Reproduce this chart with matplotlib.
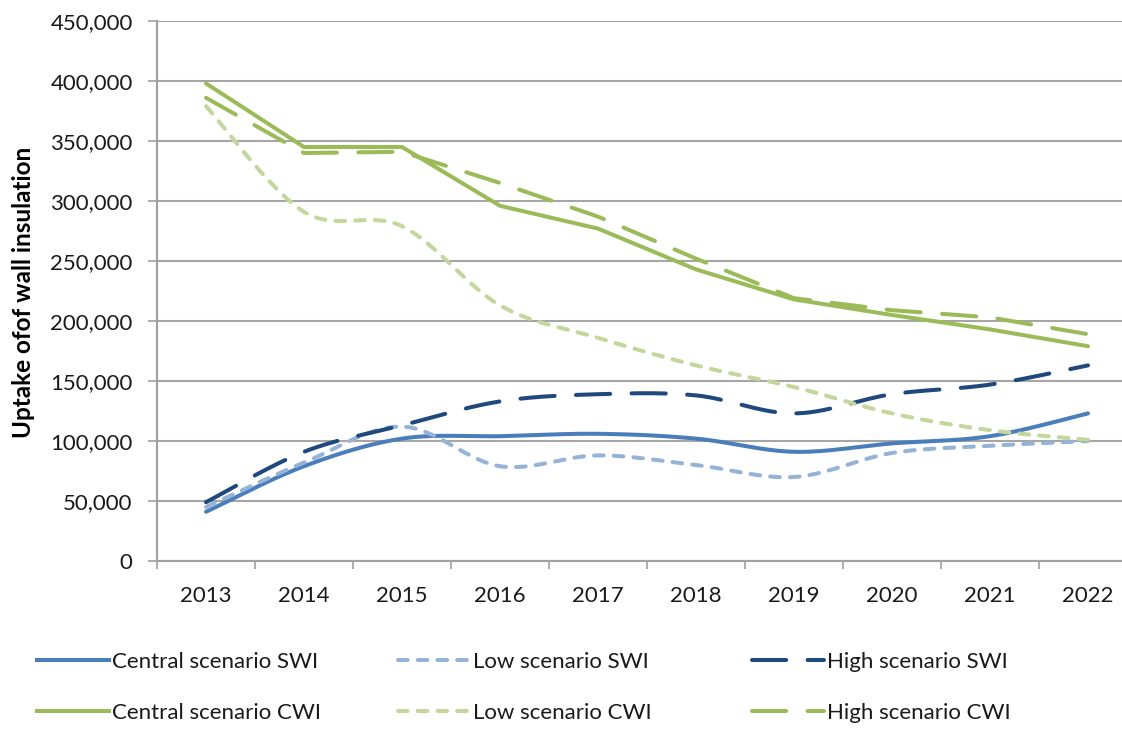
import numpy as np
import matplotlib
matplotlib.use("Agg")
import matplotlib.pyplot as plt
from matplotlib.lines import Line2D
from matplotlib.ticker import FuncFormatter, FixedLocator

plt.rcParams['font.family'] = ['Lato', 'DejaVu Sans']

years = ["2013", "2014", "2015", "2016", "2017", "2018", "2019", "2020", "2021", "2022"]
central_swi = [41000, 79000, 102000, 104000, 106000, 102000, 91000, 98000, 104000, 123000]
low_swi = [45000, 82000, 112000, 79000, 88000, 80000, 70000, 90000, 96000, 100000]
high_swi = [49000, 91000, 113000, 133000, 139000, 138000, 123000, 139000, 147000, 163000]
central_cwi = [398000, 345000, 345000, 296000, 277000, 243000, 218000, 205000, 193000, 179000]
low_cwi = [379000, 291000, 279000, 213000, 186000, 163000, 145000, 123000, 109000, 101000]
high_cwi = [386000, 340000, 341000, 315000, 287000, 252000, 219000, 209000, 203000, 189000]

labels = ["Central scenario SWI", "Low scenario SWI", "High scenario SWI",
          "Central scenario CWI", "Low scenario CWI", "High scenario CWI"]

C_MID = "#4A7EBB"
C_LIGHT = "#95B3D7"
C_DARK = "#1F497D"
G_MID = "#9BBB59"
G_LIGHT = "#C3D69B"


def smooth(y, n=30):
    y = np.asarray(y, dtype=float)
    x = np.arange(len(y), dtype=float)
    xs, ys = [], []
    for i in range(len(y) - 1):
        p0 = y[i - 1] if i > 0 else y[i]
        p1, p2 = y[i], y[i + 1]
        p3 = y[i + 2] if i + 2 < len(y) else y[i + 1]
        x0 = x[i - 1] if i > 0 else x[i]
        x3 = x[i + 2] if i + 2 < len(y) else x[i + 1]
        c1y = p1 + (p2 - p0) / 6.0
        c2y = p2 - (p3 - p1) / 6.0
        c1x = x[i] + (x[i + 1] - x0) / 6.0
        c2x = x[i + 1] - (x3 - x[i]) / 6.0
        t = np.linspace(0, 1, n, endpoint=(i == len(y) - 2))
        b0 = (1 - t) ** 3
        b1 = 3 * (1 - t) ** 2 * t
        b2 = 3 * (1 - t) * t ** 2
        b3 = t ** 3
        xs.append(b0 * x[i] + b1 * c1x + b2 * c2x + b3 * x[i + 1])
        ys.append(b0 * p1 + b1 * c1y + b2 * c2y + b3 * p2)
    return np.concatenate(xs), np.concatenate(ys)


W, H = 1122, 731
fig = plt.figure(figsize=(W / 100, H / 100), dpi=100)
ax = fig.add_axes([157 / W, 1 - 561 / H, (1137 - 157) / W, (561 - 21) / H])

lw = 2.9
long_dash = (0, (8.5, 5.3))
short_dash = (0, (2.4, 2.5))

styles = [
    (central_swi, C_MID, '-', True),
    (low_swi, C_LIGHT, short_dash, True),
    (high_swi, C_DARK, long_dash, True),
    (central_cwi, G_MID, '-', False),
    (low_cwi, G_LIGHT, short_dash, True),
    (high_cwi, G_MID, long_dash, False),
]

handles = []
for (vals, col, ls, sm), lab in zip(styles, labels):
    if sm:
        xs, ys = smooth(vals)
    else:
        xs, ys = np.arange(len(vals)), np.asarray(vals)
    ax.plot(xs, ys, color=col, linestyle=ls, linewidth=lw,
            dash_capstyle='round', solid_capstyle='round',
            solid_joinstyle='round', label=lab)
    handles.append(Line2D([], [], color=col, linestyle=ls, linewidth=lw,
                          dash_capstyle='round'))

ax.set_xlim(-0.5, len(years) - 0.5)
ax.set_ylim(0, 450000)
ax.set_yticks(np.arange(0, 450001, 50000))
ax.yaxis.set_major_formatter(FuncFormatter(lambda v, p: f"{int(v):,}"))
ax.set_xticks(np.arange(len(years)))
ax.set_xticklabels(years)
ax.xaxis.set_minor_locator(FixedLocator(np.arange(-0.5, len(years), 1.0)))
ax.tick_params(axis='x', which='major', length=0, labelsize=16, pad=18, colors='#1a1a1a')
ax.tick_params(axis='x', which='minor', length=6, width=1.2, color='#A0A0A0')
ax.tick_params(axis='y', which='major', length=6.5, width=1.2, color='#A0A0A0',
               labelsize=16, pad=11, labelcolor='#1a1a1a')

ax.grid(axis='y', color='#A6A6A6', linewidth=1.5)
ax.set_axisbelow(True)
for s in ['top', 'right']:
    ax.spines[s].set_visible(False)
for s in ['left', 'bottom']:
    ax.spines[s].set_color('#A0A0A0')
    ax.spines[s].set_linewidth(1.5)

fig.text(24 / W, 1 - 292 / H, "Uptake ofof wall insulation", rotation=90,
         ha='center', va='center', fontsize=17.5, fontweight='bold')

col_x = [37, 398, 752]
for c in range(3):
    fig.legend([handles[c], handles[c + 3]], [labels[c], labels[c + 3]],
               loc='upper left', bbox_to_anchor=(col_x[c] / W, 1 - 652 / H),
               frameon=False, fontsize=16, handlelength=3.25, handletextpad=0.13,
               labelspacing=1.39, borderaxespad=0, borderpad=0, labelcolor='#1a1a1a')

fig.savefig("out.png", dpi=100)
